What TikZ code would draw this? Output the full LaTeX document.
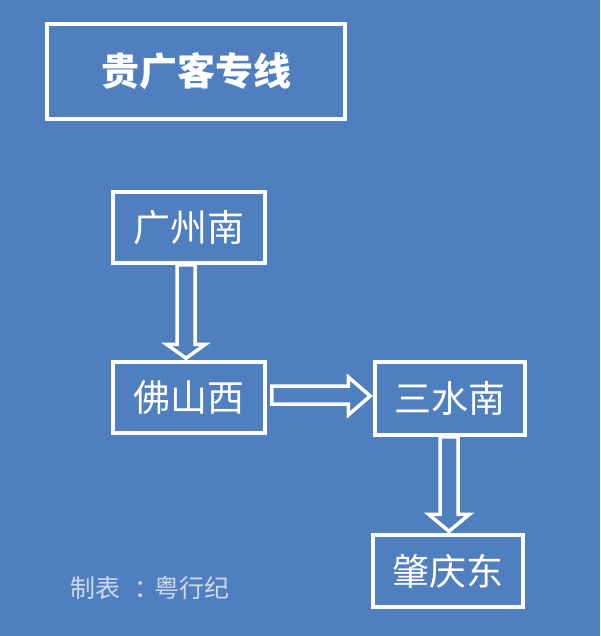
\documentclass[tikz,border=0pt]{standalone}
\usepackage{fontspec}
\newfontfamily\cjk{Noto Sans CJK SC}
\usetikzlibrary{calc}
\definecolor{bgblue}{RGB}{79,127,190}
\definecolor{footgray}{RGB}{206,217,235}
\tikzset{
  stationbox/.style={draw=white, line width=3.5pt, fill=bgblue, text=white, inner sep=0pt,
    minimum width=152pt, minimum height=71pt, font=\cjk\fontsize{37}{40}\selectfont},
  titlebox/.style={draw=white, line width=3.5pt, text=white, inner sep=0pt,
    minimum width=298pt, minimum height=95pt, font=\cjk\bfseries\fontsize{38}{42}\selectfont},
  harrow/.style={draw=white, line width=3.5pt, fill=bgblue, line join=miter},
  footnote/.style={text=footgray, anchor=west, inner sep=0pt, font=\cjk\fontsize{25}{28}\selectfont}
}
\begin{document}
\begin{tikzpicture}[x=1pt,y=-1pt]
\useasboundingbox (0,0) rectangle (600,636);
\fill[bgblue] (0,0) rectangle (600,636);
\node[titlebox] (title) at (196,71.5) {贵广客专线};
\node[stationbox] (gz) at (189,227.5) {广州南};
\node[stationbox] (fs) at (189,397.5) {佛山西};
\node[stationbox, minimum width=150pt, minimum height=73pt] (ss) at (450,398.5) {三水南};
\node[stationbox, minimum width=150pt, minimum height=72pt] (zq) at (448,571) {肇庆东};
% arrow gz -> fs
\draw[harrow] ($(gz.south)+(-12,0)$) |- ($(fs.north)+(-22.5,-16)$) -- ($(fs.north)+(-3,-2)$)
  -- ($(fs.north)+(16.5,-16)$) -| ($(gz.south)+(6,0)$) -- cycle;
% arrow fs -> ss
\draw[harrow] ($(fs.east)+(5,-11.5)$) -| ($(ss.west)+(-25,-21.5)$) -- ($(ss.west)+(-3,-2.5)$)
  -- ($(ss.west)+(-25,16.5)$) |- ($(fs.east)+(5,6.5)$) -- cycle;
% arrow ss -> zq
\draw[harrow] ($(ss.south)+(-10,0)$) |- ($(zq.north)+(-19.5,-19)$) -- ($(zq.north)+(1,-2)$)
  -- ($(zq.north)+(21.5,-19)$) -| ($(ss.south)+(8,0)$) -- cycle;
\node[footnote] (foot) at (70,588) {制表\hspace{14pt}：\hspace{-5pt}粤行纪};
\end{tikzpicture}
\end{document}
